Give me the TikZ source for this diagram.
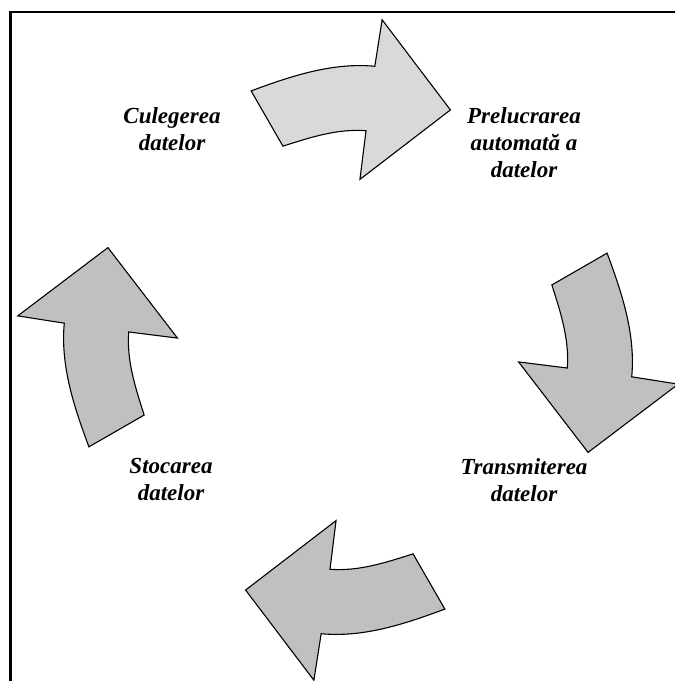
\documentclass[tikz,border=0pt]{standalone}
\usepackage{fontspec}
\setmainfont{Liberation Serif}
\usepackage{xcolor}
\definecolor{paleshade}{HTML}{D9D9D9}
\definecolor{darkshade}{HTML}{C0C0C0}

\begin{document}
\begin{tikzpicture}[x=1pt,y=1pt,
            stage/.style = {align=center,
            font=\fontsize{23}{27}\selectfont\bfseries\itshape},
            bent/.style = {draw=black,
            line width=1.1pt,
            line join=miter}]
        \useasboundingbox (0,0) rectangle (675,681);

        % Frame
        \draw[line width=2.4pt] (10.5,-3) -- (10.5,669) -- (678,669);

        % Curved arrows
        \begin{scope}[shift={(348,331)}]
            \foreach \ang/\col in {0/paleshade,-90/darkshade,-180/darkshade,90/darkshade}
                \filldraw[bent, fill=\col, rotate=\ang]
                    (110.5:276.6) .. controls +(20.5:42.5) and +(174.6:42.5) .. (84.6:285)
                    -- (84.1:332) -- (66.9:261) -- (86:171) -- (85.3:220)
                    .. controls +(175.3:28.4) and +(17.7:28.4) .. (107.7:214)
                    -- cycle;
        \end{scope}

        % Stages
        \node[stage] (culegere) at (172,552) {Culegerea\\datelor};
        \node[stage] (prelucrare) at (524,538.6) {Prelucrarea\\automată a\\datelor};
        \node[stage] (transmitere) at (524,201) {Transmiterea\\datelor};
        \node[stage] (stocare) at (171,201) {Stocarea\\datelor};
    \end{tikzpicture}
\end{document}
